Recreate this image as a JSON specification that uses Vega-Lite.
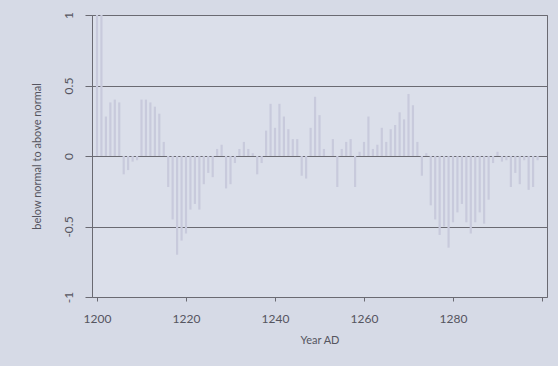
{
  "$schema": "https://vega.github.io/schema/vega-lite/v6.json",
  "autosize": {"type": "none"},
  "padding": {"left": 92, "top": 15, "right": 11, "bottom": 69},
  "width": 455,
  "height": 282,
  "background": "#d6dae6",
  "config": {
    "view": {"fill": "#dbdfea", "stroke": "#6a6a72", "strokeWidth": 1},
    "font": "Lato"
  },
  "data": {
    "values": [
      {"year": 1200, "value": 1.0}, {"year": 1201, "value": 1.0}, {"year": 1202, "value": 0.28}, {"year": 1203, "value": 0.38}, {"year": 1204, "value": 0.4},
      {"year": 1205, "value": 0.38}, {"year": 1206, "value": -0.13}, {"year": 1207, "value": -0.1}, {"year": 1208, "value": -0.04}, {"year": 1209, "value": -0.03},
      {"year": 1210, "value": 0.4}, {"year": 1211, "value": 0.4}, {"year": 1212, "value": 0.38}, {"year": 1213, "value": 0.35}, {"year": 1214, "value": 0.3},
      {"year": 1215, "value": 0.1}, {"year": 1216, "value": -0.22}, {"year": 1217, "value": -0.45}, {"year": 1218, "value": -0.7}, {"year": 1219, "value": -0.6},
      {"year": 1220, "value": -0.55}, {"year": 1221, "value": -0.38}, {"year": 1222, "value": -0.34}, {"year": 1223, "value": -0.38}, {"year": 1224, "value": -0.2},
      {"year": 1225, "value": -0.12}, {"year": 1226, "value": -0.15}, {"year": 1227, "value": 0.05}, {"year": 1228, "value": 0.08}, {"year": 1229, "value": -0.23},
      {"year": 1230, "value": -0.2}, {"year": 1231, "value": -0.05}, {"year": 1232, "value": 0.05}, {"year": 1233, "value": 0.1}, {"year": 1234, "value": 0.05},
      {"year": 1235, "value": 0.02}, {"year": 1236, "value": -0.13}, {"year": 1237, "value": -0.05}, {"year": 1238, "value": 0.18}, {"year": 1239, "value": 0.37},
      {"year": 1240, "value": 0.2}, {"year": 1241, "value": 0.37}, {"year": 1242, "value": 0.28}, {"year": 1243, "value": 0.19}, {"year": 1244, "value": 0.12},
      {"year": 1245, "value": 0.12}, {"year": 1246, "value": -0.14}, {"year": 1247, "value": -0.16}, {"year": 1248, "value": 0.2}, {"year": 1249, "value": 0.42},
      {"year": 1250, "value": 0.29}, {"year": 1251, "value": 0.05}, {"year": 1252, "value": 0.0}, {"year": 1253, "value": 0.12}, {"year": 1254, "value": -0.22},
      {"year": 1255, "value": 0.05}, {"year": 1256, "value": 0.1}, {"year": 1257, "value": 0.12}, {"year": 1258, "value": -0.22}, {"year": 1259, "value": 0.03},
      {"year": 1260, "value": 0.1}, {"year": 1261, "value": 0.28}, {"year": 1262, "value": 0.05}, {"year": 1263, "value": 0.08}, {"year": 1264, "value": 0.2},
      {"year": 1265, "value": 0.1}, {"year": 1266, "value": 0.19}, {"year": 1267, "value": 0.22}, {"year": 1268, "value": 0.31}, {"year": 1269, "value": 0.26},
      {"year": 1270, "value": 0.44}, {"year": 1271, "value": 0.36}, {"year": 1272, "value": 0.1}, {"year": 1273, "value": -0.14}, {"year": 1274, "value": 0.02},
      {"year": 1275, "value": -0.35}, {"year": 1276, "value": -0.45}, {"year": 1277, "value": -0.56}, {"year": 1278, "value": -0.5}, {"year": 1279, "value": -0.65},
      {"year": 1280, "value": -0.47}, {"year": 1281, "value": -0.4}, {"year": 1282, "value": -0.34}, {"year": 1283, "value": -0.47}, {"year": 1284, "value": -0.55},
      {"year": 1285, "value": -0.47}, {"year": 1286, "value": -0.4}, {"year": 1287, "value": -0.48}, {"year": 1288, "value": -0.31}, {"year": 1289, "value": -0.05},
      {"year": 1290, "value": 0.03}, {"year": 1291, "value": -0.04}, {"year": 1292, "value": -0.03}, {"year": 1293, "value": -0.22}, {"year": 1294, "value": -0.12},
      {"year": 1295, "value": -0.2}, {"year": 1296, "value": -0.03}, {"year": 1297, "value": -0.24}, {"year": 1298, "value": -0.22}, {"year": 1299, "value": -0.03}
    ]
  },
  "mark": {"type": "bar", "size": 2.2, "color": "#c8cadc"},
  "encoding": {
    "x": {
      "field": "year",
      "type": "quantitative",
      "scale": {"domain": [1200, 1300], "nice": false, "zero": false},
      "axis": {
        "values": [1200, 1220, 1240, 1260, 1280, 1300],
        "labelExpr": "datum.value == 1300 ? '' : datum.label",
        "format": "d",
        "title": "Year AD",
        "grid": false,
        "domain": false,
        "tickColor": "#6a6a72",
        "tickSize": 4,
        "labelPadding": 12,
        "labelFontSize": 12,
        "labelColor": "#555560",
        "titleFontSize": 11,
        "titleFontWeight": "normal",
        "titleColor": "#555560",
        "titlePadding": 10
      }
    },
    "y": {
      "field": "value",
      "type": "quantitative",
      "scale": {"domain": [-1, 1], "nice": false},
      "axis": {
        "values": [-1, -0.5, 0, 0.5, 1],
        "labelExpr": "'' + datum.value",
        "title": "below normal to above normal",
        "grid": true,
        "gridColor": "#6a6a72",
        "gridWidth": 1,
        "domain": false,
        "tickColor": "#6a6a72",
        "tickSize": 7,
        "labelAngle": -90,
        "labelPadding": 10,
        "labelFontSize": 12,
        "labelColor": "#555560",
        "titleFontSize": 11,
        "titleFontWeight": "normal",
        "titleColor": "#555560",
        "titlePadding": 20
      }
    }
  }
}
